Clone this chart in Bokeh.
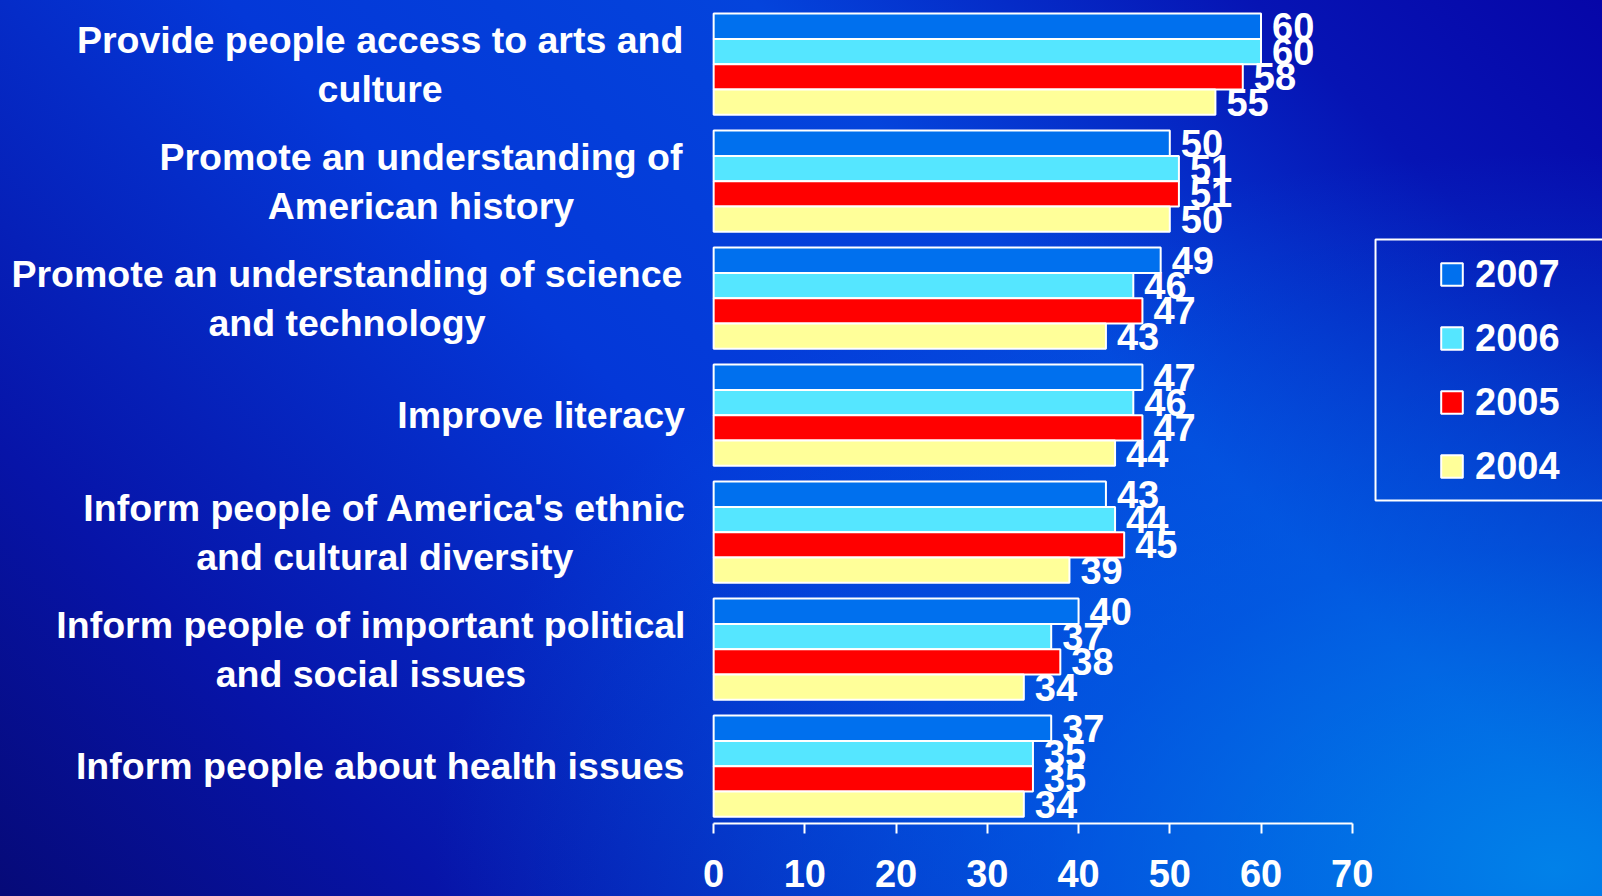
from bokeh.plotting import figure
from bokeh.models import Range1d, FixedTicker, Legend, LegendItem, BoxAnnotation, ColumnDataSource
from bokeh.embed import file_html
from bokeh.resources import INLINE
from bokeh.core.properties import value

# ---------------- data ----------------
categories = [
    "Provide people access to arts and\nculture",
    "Promote an understanding of\nAmerican history",
    "Promote an understanding of science\nand technology",
    "Improve literacy",
    "Inform people of America's ethnic\nand cultural diversity",
    "Inform people of important political\nand social issues",
    "Inform people about health issues",
]
years = ["2007", "2006", "2005", "2004"]
v2007 = [60, 50, 49, 47, 43, 40, 37]
v2006 = [60, 51, 46, 46, 44, 37, 35]
v2005 = [58, 51, 47, 47, 45, 38, 35]
v2004 = [55, 50, 43, 44, 39, 34, 34]
x_ticks = [0, 10, 20, 30, 40, 50, 60, 70]

series = [v2007, v2006, v2005, v2004]
colors = ["#0070EE", "#55E6FF", "#FF0000", "#FFFF99"]

# ---------------- layout ----------------
n = len(categories)
cat_y = [n - 0.5 - i for i in range(n)]           # category centres, top first
bar_h = 0.2162
offsets = [1.5 * bar_h, 0.5 * bar_h, -0.5 * bar_h, -1.5 * bar_h]
# horizontal centre of each label block, in px relative to x = 0
label_offset_px = [-333.5, -292.7, -366.7, -172.6, -328.9, -342.7, -333.5]

FONT = value("Liberation Sans")

p = figure(
    width=1602, height=896,
    x_range=Range1d(-78.17, 97.43), y_range=Range1d(0.0103, 7.0445),
    y_axis_location=None,
    toolbar_location=None, output_backend="svg",
    min_border=0, min_border_left=0, min_border_right=0, min_border_top=0,
    min_border_bottom=73,
)
p.outline_line_color = None
p.background_fill_alpha = 0
p.border_fill_alpha = 0
p.styles = {
    "background": (
        "radial-gradient(ellipse 70% 80% at 97% 97%, rgba(0,140,235,0.85) 0%, "
        "rgba(0,110,230,0.5) 45%, rgba(0,90,225,0) 100%), "
        "linear-gradient(45deg, #060A78 0%, #0714A8 18%, #0438D8 45%, "
        "#0444DC 66%, #0614B4 86%, #0606A8 100%)"
    )
}
p.xgrid.visible = False
p.ygrid.visible = False

ax = p.xaxis[0]
ax.ticker = FixedTicker(ticks=x_ticks)
ax.bounds = (0, 70)
ax.axis_line_color = "white"
ax.axis_line_width = 2
ax.major_tick_line_color = "white"
ax.major_tick_line_width = 2
ax.major_tick_out = 10
ax.major_tick_in = 0
ax.minor_tick_line_color = None
ax.major_label_text_font = "Liberation Sans"
ax.major_label_text_font_style = "bold"
ax.major_label_text_font_size = "38px"
ax.major_label_text_color = "white"
ax.major_label_standoff = 26

renderers = []
for vals, off, col in zip(series, offsets, colors):
    ys = [c + off for c in cat_y]
    src = ColumnDataSource(dict(y=ys, right=vals, lab=[str(v) for v in vals]))
    r = p.hbar(y="y", left=0, right="right", height=bar_h, source=src,
               fill_color=col, line_color="white", line_width=2)
    renderers.append(r)
    p.text(x="right", y="y", text="lab", source=src, x_offset=11,
           text_align="left", text_baseline="middle",
           text_font=FONT, text_font_style="bold", text_font_size="38px",
           text_color="white")

lab_src = ColumnDataSource(dict(x=[0] * n, y=cat_y, text=categories, xo=label_offset_px))
p.text(x="x", y="y", text="text", x_offset="xo", source=lab_src,
       text_align="center", text_baseline="middle", text_line_height=1.16,
       text_font=FONT, text_font_style="bold", text_font_size="37.5px",
       text_color="white")

# legend frame
p.add_layout(BoxAnnotation(left=72.55, right=130, top=5.0018, bottom=2.7710,
                           fill_alpha=0, line_color="white", line_width=2, line_alpha=1))

legend = Legend(
    items=[LegendItem(label=yr, renderers=[r]) for yr, r in zip(years, renderers)],
    location=(1438, 335.5),
    glyph_width=27, glyph_height=28, label_standoff=10, spacing=21,
    padding=0, margin=0,
    border_line_alpha=0, background_fill_alpha=0,
    label_text_font="Liberation Sans", label_text_font_style="bold",
    label_text_font_size="38px", label_text_color="white",
)
p.add_layout(legend)

open("out.html", "w").write(file_html(p, INLINE))
